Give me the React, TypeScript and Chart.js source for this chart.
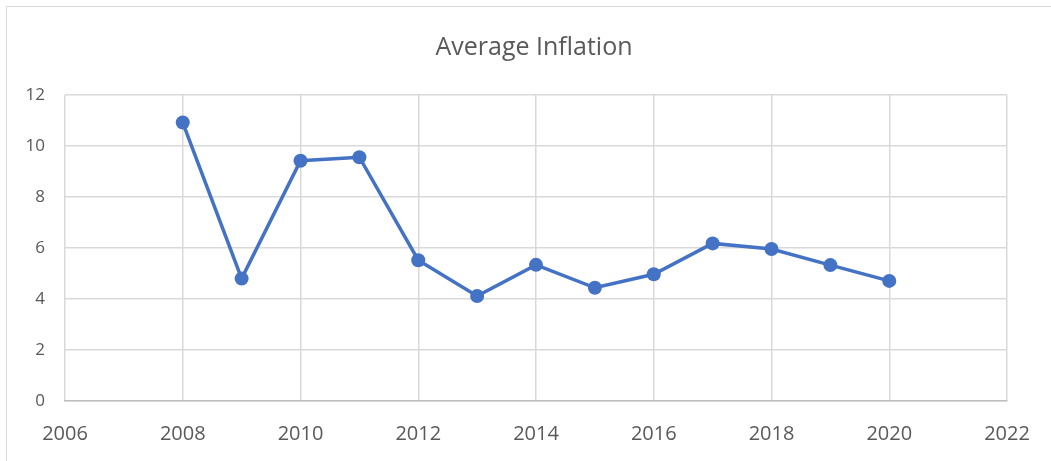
import React, { useEffect, useRef } from "react";
import { Chart, registerables } from "chart.js";

Chart.register(...registerables);

const years = [2008, 2009, 2010, 2011, 2012, 2013, 2014, 2015, 2016, 2017, 2018, 2019, 2020];
const inflation = [10.92, 4.8, 9.42, 9.56, 5.52, 4.12, 5.34, 4.44, 4.97, 6.18, 5.96, 5.33, 4.71];
const titleText = "Average Inflation";
const xRange = [2006, 2022];
const yRange = [0, 12];

const W = 1051;
const H = 461;

const decor = {
  id: "decor",
  beforeDraw(chart: any) {
    const ctx = chart.ctx;
    ctx.save();
    ctx.fillStyle = "#ffffff";
    ctx.fillRect(0, 0, W, H);
    ctx.strokeStyle = "#d9d9d9";
    ctx.lineWidth = 1;
    ctx.beginPath();
    ctx.moveTo(6.5, H);
    ctx.lineTo(6.5, 6.5);
    ctx.lineTo(W, 6.5);
    ctx.stroke();
    ctx.fillStyle = "#595959";
    ctx.font = '25px "Open Sans"';
    ctx.textAlign = "center";
    ctx.textBaseline = "alphabetic";
    ctx.fillText(titleText, 534, 55);
    ctx.restore();
  },
};

export default function App() {
  const ref = useRef<HTMLCanvasElement | null>(null);
  useEffect(() => {
    if (!ref.current) return;
    const chart = new Chart(ref.current, {
      type: "line",
      data: {
        datasets: [
          {
            label: titleText,
            data: years.map((y, i) => ({ x: y, y: inflation[i] })),
            borderColor: "#4472C4",
            backgroundColor: "#4472C4",
            borderWidth: 3.5,
            pointRadius: 7,
            pointBorderWidth: 0,
            pointBackgroundColor: "#4472C4",
            tension: 0,
          },
        ],
      },
      plugins: [decor],
      options: {
        animation: false,
        responsive: false,
        layout: { padding: { left: 0, right: 44, top: 95, bottom: 0 } },
        plugins: {
          legend: { display: false },
          title: { display: false },
          tooltip: { enabled: false },
        },
        scales: {
          x: {
            type: "linear",
            min: xRange[0],
            max: xRange[1],
            afterFit: (s: any) => {
              s.height = H - 401;
            },
            ticks: {
              stepSize: 2,
              padding: 21,
              color: "#595959",
              font: { family: '"Open Sans"', size: 20 },
              callback: (v: any) => String(v),
              maxRotation: 0,
            },
            grid: { color: "#d9d9d9", drawTicks: false, lineWidth: 1.5 },
            border: { display: true, color: "#bfbfbf", width: 1.5 },
          },
          y: {
            min: yRange[0],
            max: yRange[1],
            afterFit: (s: any) => {
              s.width = 65;
            },
            ticks: {
              stepSize: 2,
              padding: 20,
              color: "#595959",
              font: { family: '"Open Sans"', size: 17 },
            },
            grid: { color: "#d9d9d9", drawTicks: false, lineWidth: 1.5 },
            border: { display: false },
          },
        },
      },
    });
    return () => chart.destroy();
  }, []);
  return (
    <div style={{ position: "absolute", left: 0, top: 0, width: W, height: H, background: "#fff" }}>
      <canvas ref={ref} width={W} height={H} style={{ display: "block" }} />
    </div>
  );
}
